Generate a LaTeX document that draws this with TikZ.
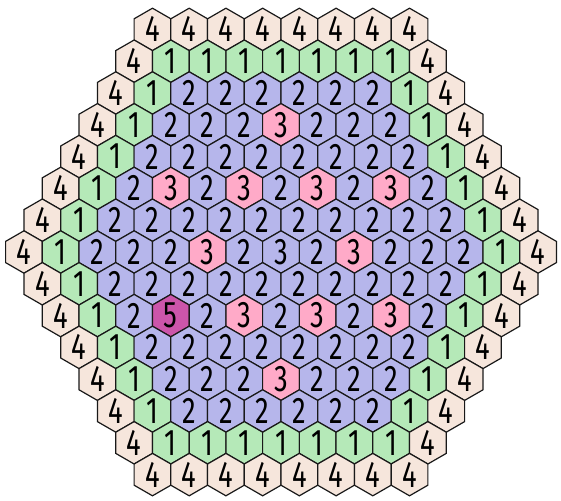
\documentclass[tikz,border=0pt]{standalone}
\usepackage{fontspec}
\usetikzlibrary{shapes.geometric}
\newfontfamily\digitfont{Fira Sans}[FakeStretch=0.74]
\definecolor{sand}{HTML}{F6E6DC}
\definecolor{mint}{HTML}{B5E9B8}
\definecolor{lilac}{HTML}{B6B6EB}
\definecolor{rose}{HTML}{FFAAC8}
\definecolor{plum}{HTML}{CC55AA}
% first character of a cell code is its number
\def\cellnum#1{\expandafter\cellnumx#1\relax}
\def\cellnumx#1#2\relax{#1}
% rows from top to bottom, codes of the cells
\def\hexrows{
  0/{4,4,4,4,4,4,4,4},
  1/{4,1,1,1,1,1,1,1,4},
  2/{4,1,2,2,2,2,2,2,1,4},
  3/{4,1,2,2,2,3,2,2,2,1,4},
  4/{4,1,2,2,2,2,2,2,2,2,1,4},
  5/{4,1,2,3,2,3,2,3,2,3,2,1,4},
  6/{4,1,2,2,2,2,2,2,2,2,2,2,1,4},
  7/{4,1,2,2,2,3,2,3b,2,3,2,2,2,1,4},
  8/{4,1,2,2,2,2,2,2,2,2,2,2,1,4},
  9/{4,1,2,5,2,3,2,3,2,3,2,1,4},
  10/{4,1,2,2,2,2,2,2,2,2,1,4},
  11/{4,1,2,2,2,3,2,2,2,1,4},
  12/{4,1,2,2,2,2,2,2,1,4},
  13/{4,1,1,1,1,1,1,1,4},
  14/{4,4,4,4,4,4,4,4}}
\tikzset{
  cell/.style={draw=black!90,line width=1.2pt,regular polygon,regular polygon sides=6,shape border rotate=30,minimum size=42.4pt,inner sep=0pt,outer sep=0pt},
  cell1/.style={cell,fill=mint},
  cell2/.style={cell,fill=lilac},
  cell3/.style={cell,fill=rose},
  cell3b/.style={cell,fill=lilac},
  cell4/.style={cell,fill=sand},
  cell5/.style={cell,fill=plum},
  num/.style={inner sep=0pt,font=\digitfont\fontsize{37}{37}\selectfont},
}

\begin{document}
\begin{tikzpicture}[x=1pt,y=1pt]
\useasboundingbox (0,0) rectangle (561,-500);
% hexagons
\foreach \r/\cells in \hexrows{
  \pgfmathsetmacro\n{8+min(\r,14-\r)}
  \foreach \v [count=\i from 0] in \cells{
    \pgfmathsetmacro\px{281+(\i-(\n-1)/2)*36.72}
    \pgfmathsetmacro\py{-252+(7-\r)*31.8}
    \node[cell\v] (c-\r-\i) at (\px,\py) {};
  }
}
% numbers on top
\foreach \r/\cells in \hexrows{
  \foreach \v [count=\i from 0] in \cells{
    \node[num] (n-\r-\i) at (c-\r-\i) {\cellnum{\v}};
  }
}
\end{tikzpicture}
\end{document}
